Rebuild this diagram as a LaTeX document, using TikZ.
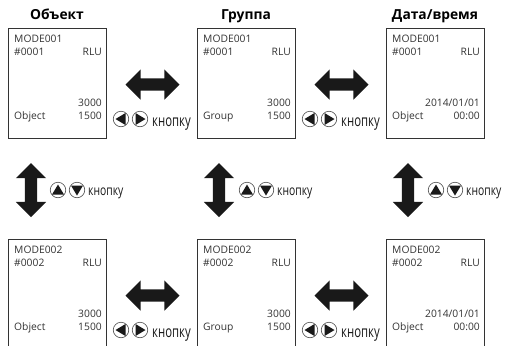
\documentclass[tikz,border=0pt]{standalone}
\usepackage{fontspec}
\usepackage{graphicx}
\setmainfont{Open Sans}
\usetikzlibrary{shapes.arrows}
\tikzset{
  x=1pt,y=-1pt,
  screen/.style={fill=white,draw=black!80,line width=0.9pt},
  txt/.style={inner sep=0pt,font=\fontsize{10.3}{12}\selectfont,text=black!80},
  lab/.style={txt,anchor=base west},
  rab/.style={txt,anchor=base east},
  head/.style={inner sep=0pt,font=\fontsize{13.8}{15}\selectfont\bfseries,anchor=base},
  bigarrow/.style={double arrow,fill=black!90,draw=none,inner sep=6pt,minimum height=54pt,minimum width=30pt,double arrow head extend=9pt,double arrow head indent=0pt},
  vert/.style={bigarrow,shape border rotate=90},
  btn/.style={circle,draw=black!70,fill=white,line width=0.6pt,minimum size=15.5pt,inner sep=0pt},
  press/.style={inner sep=0pt,anchor=base west,font=\fontsize{16}{18}\selectfont,text=black!90},
  pressv/.style={inner sep=0pt,anchor=base west,font=\fontsize{14}{16}\selectfont,text=black!90},
}
\newcommand{\knopka}{\scalebox{0.71}[1]{кнопку}}
\newcommand{\knopkav}{\scalebox{0.74}[1]{кнопку}}
\newcommand{\panel}[8]{%
  \coordinate (#1o) at (#2,#3);
  \node[lab] (#1a) at (#2+6,#3+14) {#4};
  \node[lab] (#1b) at (#2+6,#3+27) {#5};
  \node[rab] (#1c) at (#2+94,#3+27) {RLU};
  \node[rab] (#1d) at (#2+94,#3+78.5) {#6};
  \node[lab] (#1e) at (#2+6,#3+91) {#7};
  \node[rab] (#1f) at (#2+94,#3+91) {#8};
}
\newcommand{\hbtn}[3]{%
  \node[btn] (#1l) at (#2,#3) {};
  \node[btn] (#1r) at (#2+19,#3) {};
  \fill[black!90] (#2+4.5,#3-6) -- (#2+4.5,#3+6) -- (#2-5.5,#3) -- cycle;
  \fill[black!90] (#2+14.5,#3-6) -- (#2+14.5,#3+6) -- (#2+24.5,#3) -- cycle;
  \node[press] (#1t) at (#2+31,#3+7.5) {\knopka};
}
\newcommand{\vbtn}[3]{%
  \node[btn] (#1u) at (#2,#3) {};
  \node[btn] (#1d) at (#2+19,#3) {};
  \fill[black!90] (#2-6,#3+4.5) -- (#2+6,#3+4.5) -- (#2,#3-5.5) -- cycle;
  \fill[black!90] (#2+13,#3-4.5) -- (#2+25,#3-4.5) -- (#2+19,#3+5.5) -- cycle;
  \node[pressv] (#1t) at (#2+30,#3+5) {\knopkav};
}
\begin{document}
\begin{tikzpicture}
\useasboundingbox (0,0) rectangle (507,346);
\fill[white] (0,0) rectangle (507,346);
\node[head] (h1) at (57,19.5) {Объект};
\node[head] (h2) at (246,19.5) {Группа};
\node[head] (h3) at (435,19.5) {Дата/время};
\draw[screen] (8,28) rectangle (106,138);
\draw[screen] (197,28) rectangle (295,138);
\draw[screen] (386,28) rectangle (484,138);
\draw[screen] (8,346) -- (8,239) -- (106,239) -- (106,346);
\draw[screen] (197,346) -- (197,239) -- (295,239) -- (295,346);
\draw[screen] (386,346) -- (386,239) -- (484,239) -- (484,346);
\panel{p1}{8}{28}{MODE001}{\#0001}{3000}{Object}{1500}
\panel{p2}{197}{28}{MODE001}{\#0001}{3000}{Group}{1500}
\panel{p3}{386}{28}{MODE001}{\#0001}{2014/01/01}{Object}{00:00}
\panel{p4}{8}{239}{MODE002}{\#0002}{3000}{Object}{1500}
\panel{p5}{197}{239}{MODE002}{\#0002}{3000}{Group}{1500}
\panel{p6}{386}{239}{MODE002}{\#0002}{2014/01/01}{Object}{00:00}
\node[bigarrow] (a1) at (152.5,84.5) {};
\node[bigarrow] (a2) at (341.5,84.5) {};
\node[bigarrow] (a3) at (152.5,295.5) {};
\node[bigarrow] (a4) at (341.5,295.5) {};
\node[vert] (v1) at (31,190) {};
\node[vert] (v2) at (219,190) {};
\node[vert] (v3) at (408,190) {};
\hbtn{b1}{121}{119}
\hbtn{b2}{310}{119}
\hbtn{b3}{121}{330}
\hbtn{b4}{310}{330}
\vbtn{c1}{58}{190}
\vbtn{c2}{247}{190}
\vbtn{c3}{436}{190}
\end{tikzpicture}
\end{document}
